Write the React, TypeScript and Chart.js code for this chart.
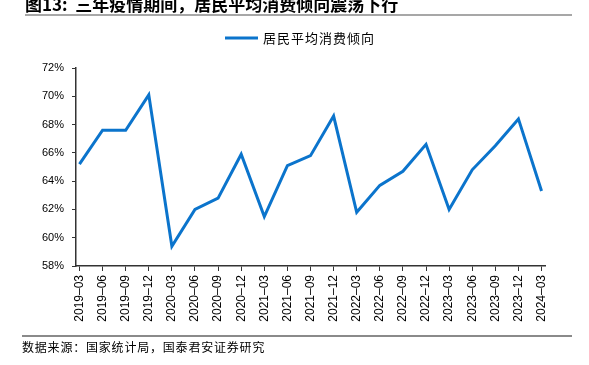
import React, { useEffect, useRef } from "react";
import { Chart, registerables } from "chart.js";

Chart.register(...registerables);

const titleText = "图13:  三年疫情期间，居民平均消费倾向震荡下行";
const legendLabel = "居民平均消费倾向";
const sourceText = "数据来源：国家统计局，国泰君安证券研究";

const categories = [
  "2019–03", "2019–06", "2019–09", "2019–12",
  "2020–03", "2020–06", "2020–09", "2020–12",
  "2021–03", "2021–06", "2021–09", "2021–12",
  "2022–03", "2022–06", "2022–09", "2022–12",
  "2023–03", "2023–06", "2023–09", "2023–12",
  "2024–03",
];

const consumptionRate = [
  65.2, 67.6, 67.6, 70.1,
  59.4, 62.0, 62.8, 65.9,
  61.5, 65.1, 65.8, 68.6,
  61.8, 63.7, 64.7, 66.6,
  62.0, 64.8, 66.5, 68.4,
  63.3,
];

const yMin = 58;
const yMax = 72;
const yStep = 2;

const LINE_COLOR = "#0B74CC";
const AXIS_COLOR = "#333333";
const TICK_FONT = '"Liberation Sans", Arial, sans-serif';
const CJK_FONT = '"Noto Sans CJK SC", sans-serif';

const decorPlugin = {
  id: "decor",
  beforeDraw(chart: any) {
    const ctx = chart.ctx;
    ctx.save();
    ctx.fillStyle = "#ffffff";
    ctx.fillRect(0, 0, chart.width, chart.height);
    ctx.restore();
  },
  afterDraw(chart: any) {
    const ctx = chart.ctx;
    ctx.save();
    // title
    ctx.fillStyle = "#000000";
    ctx.font = `bold 17px ${CJK_FONT}`;
    ctx.textBaseline = "alphabetic";
    ctx.textAlign = "left";
    ctx.fillText(titleText, 25, 11);
    // top rule
    ctx.strokeStyle = "#8a8a8a";
    ctx.lineWidth = 1.5;
    ctx.beginPath();
    ctx.moveTo(25, 15);
    ctx.lineTo(572, 15);
    ctx.stroke();
    // legend
    ctx.strokeStyle = LINE_COLOR;
    ctx.lineWidth = 3;
    ctx.beginPath();
    ctx.moveTo(225, 38);
    ctx.lineTo(258, 38);
    ctx.stroke();
    ctx.fillStyle = "#000000";
    ctx.font = `13px ${CJK_FONT}`;
    ctx.textBaseline = "middle";
    (ctx as any).letterSpacing = "1px";
    ctx.fillText(legendLabel, 263, 38);
    // bottom rule
    (ctx as any).letterSpacing = "0px";
    ctx.strokeStyle = "#8a8a8a";
    ctx.lineWidth = 2;
    ctx.beginPath();
    ctx.moveTo(22, 336);
    ctx.lineTo(572, 336);
    ctx.stroke();
    // source
    ctx.fillStyle = "#000000";
    ctx.font = `12px ${CJK_FONT}`;
    (ctx as any).letterSpacing = "0.8px";
    ctx.textBaseline = "middle";
    ctx.fillText(sourceText, 22, 347);
    ctx.restore();
  },
};

export default function App() {
  const canvasRef = useRef<HTMLCanvasElement | null>(null);

  useEffect(() => {
    if (!canvasRef.current) return;
    const chart = new Chart(canvasRef.current, {
      type: "line",
      data: {
        datasets: [
          {
            label: legendLabel,
            data: consumptionRate.map((v, i) => ({ x: i, y: v })),
            borderColor: LINE_COLOR,
            backgroundColor: LINE_COLOR,
            borderWidth: 3,
            pointRadius: 0,
            tension: 0,
          },
        ],
      },
      options: {
        animation: false,
        responsive: false,
        devicePixelRatio: 1,
        layout: { padding: { top: 68, right: 44, left: 0, bottom: 0 } },
        plugins: {
          legend: { display: false },
          tooltip: { enabled: false },
          title: { display: false },
        },
        scales: {
          x: {
            type: "linear",
            min: -0.15,
            max: categories.length - 1 + 0.15,
            afterBuildTicks: (scale: any) => {
              scale.ticks = categories.map((_, i) => ({ value: i }));
            },
            afterFit: (scale: any) => {
              scale.height = 99;
            },
            ticks: {
              autoSkip: false,
              maxRotation: 90,
              minRotation: 90,
              padding: 4,
              color: "#000000",
              font: { family: TICK_FONT, size: 12 },
              callback: (v: any) => categories[Math.round(v)] ?? "",
            },
            grid: {
              drawOnChartArea: false,
              drawTicks: true,
              tickLength: 5,
              color: AXIS_COLOR,
            },
            border: { color: AXIS_COLOR, width: 1.5 },
          },
          y: {
            type: "linear",
            min: yMin,
            max: yMax,
            afterFit: (scale: any) => {
              scale.width = 76;
            },
            ticks: {
              stepSize: yStep,
              padding: 8,
              color: "#000000",
              font: { family: TICK_FONT, size: 11 },
              callback: (v: any) => `${v}%`,
            },
            grid: {
              drawOnChartArea: false,
              drawTicks: true,
              tickLength: 4,
              color: AXIS_COLOR,
            },
            border: { color: AXIS_COLOR, width: 1.5 },
          },
        },
      },
      plugins: [decorPlugin],
    });
    return () => chart.destroy();
  }, []);

  return (
    <div style={{ position: "absolute", left: 0, top: 0, width: 589, height: 365, background: "#fff" }}>
      <canvas ref={canvasRef} width={589} height={365} style={{ display: "block", width: 589, height: 365 }} />
    </div>
  );
}
